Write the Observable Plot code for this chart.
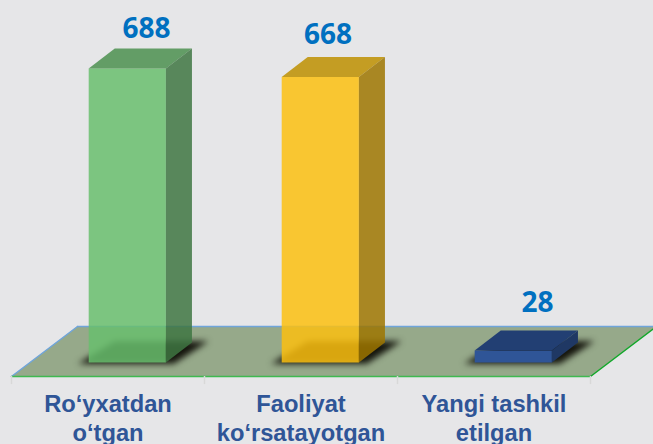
<!DOCTYPE html>
<html><head><meta charset="utf-8">
<script src="https://cdn.jsdelivr.net/npm/d3@7"></script>
<script src="https://cdn.jsdelivr.net/npm/@observablehq/plot@0.6"></script>
<style>html,body{margin:0;padding:0;background:#e6e6e8;overflow:hidden}svg{display:block}</style>
</head><body><div id="chart"></div>
<script>
const categories = ["Ro‘yxatdan\no‘tgan", "Faoliyat\nko‘rsatayotgan", "Yangi tashkil\netilgan"];
const values = [688, 668, 28];
const frontColors = ["#68BE6D", "#FCBF10", "#2F5597"];
const topColors = ["#4B8F4F", "#BD8F00", "#223F73"];
const sideColors = ["#3E7642", "#9E7600", "#1F3864"];
const barOpacity = [0.85, 0.85, 1];
const labelDx = [0.1, 0.04, 0.125];
const labelDy = [13, 7, -7];

// geometry, in scale units
const barOffset = 0.4, barWidth = 0.4, depthX = 0.135, depthY = 46.8;
const floorFront = -32.8, floorBack = 84.2, floorSkew = 0.342;

const poly = (id, pts, extra) => pts.map(([x, y]) => ({id, x, y, ...extra}));
const faces = [], shadows = [];
values.forEach((v, i) => {
  const l = i + barOffset, r = l + barWidth;
  const base = {fill: frontColors[i], o: barOpacity[i]};
  faces.push(...poly(`f${i}`, [[l, 0], [r, 0], [r, v], [l, v]], base));
  faces.push(...poly(`t${i}`, [[l, v], [r, v], [r + depthX, v + depthY], [l + depthX, v + depthY]], {...base, fill: topColors[i]}));
  faces.push(...poly(`s${i}`, [[r, 0], [r + depthX, depthY], [r + depthX, v + depthY], [r, v]], {...base, fill: sideColors[i]}));
  shadows.push(...poly(`h${i}`, [[l - 0.055, -3], [r + 0.04, -3], [r + depthX + 0.085, depthY + 3], [l + depthX, depthY + 3]], {}));
});
const floor = [[0, floorFront], [3, floorFront], [3 + floorSkew, floorBack], [floorSkew, floorBack]].map(([x, y]) => ({x, y}));
const edge = (a, b) => [floor[a], floor[b]];
const polyOpts = {x: "x", y: "y", z: "id", stroke: "none"};

const plot = Plot.plot({
  width: 653, height: 444,
  margin: 0, marginLeft: 11, marginRight: 63,
  style: {background: "#e6e6e8", overflow: "hidden"},
  x: {domain: [0, 3], axis: null},
  y: {domain: [-191.9, 847], range: [444, 0], axis: null},
  marks: [
    Plot.line(floor, {x: "x", y: "y", fill: "#96a98a", stroke: "none"}),
    Plot.line(edge(2, 3), {x: "x", y: "y", stroke: "#6fa5da", strokeWidth: 1.5}),
    Plot.line(edge(3, 0), {x: "x", y: "y", stroke: "#6fa5da", strokeWidth: 1.5}),
    Plot.line(edge(0, 1), {x: "x", y: "y", stroke: "#3fb950", strokeWidth: 1.5}),
    Plot.line(edge(1, 2), {x: "x", y: "y", stroke: "#12a82a", strokeWidth: 1.5}),
    Plot.ruleX([0, 1, 2, 3], {y1: floorFront, y2: floorFront - 19, stroke: "#d8d8d8", strokeWidth: 1.5}),
    Plot.line(shadows, {...polyOpts, fill: "#14140c", imageFilter: "blur(3px)"}),
    Plot.line(faces, {...polyOpts, fill: {value: "fill", scale: null}, fillOpacity: {value: "o", scale: null}}),
    Plot.text(values, {
      x: (d, i) => i + barOffset + barWidth / 2 + labelDx[i],
      y: (d, i) => d + depthY + 58 - labelDy[i],
      text: d => String(d),
      fill: "#0070C0", fontSize: 28, fontWeight: 700, fontFamily: "Open Sans"
    }),
    Plot.text(categories, {
      x: (d, i) => i + 0.5,
      y: floorFront - 96,
      text: d => d,
      lineHeight: 1.19, lineAnchor: "middle",
      fill: "#2F5597", fontSize: 23.7, fontWeight: 700, fontFamily: "Liberation Sans"
    })
  ]
});
document.getElementById("chart").appendChild(plot);
</script></body></html>
